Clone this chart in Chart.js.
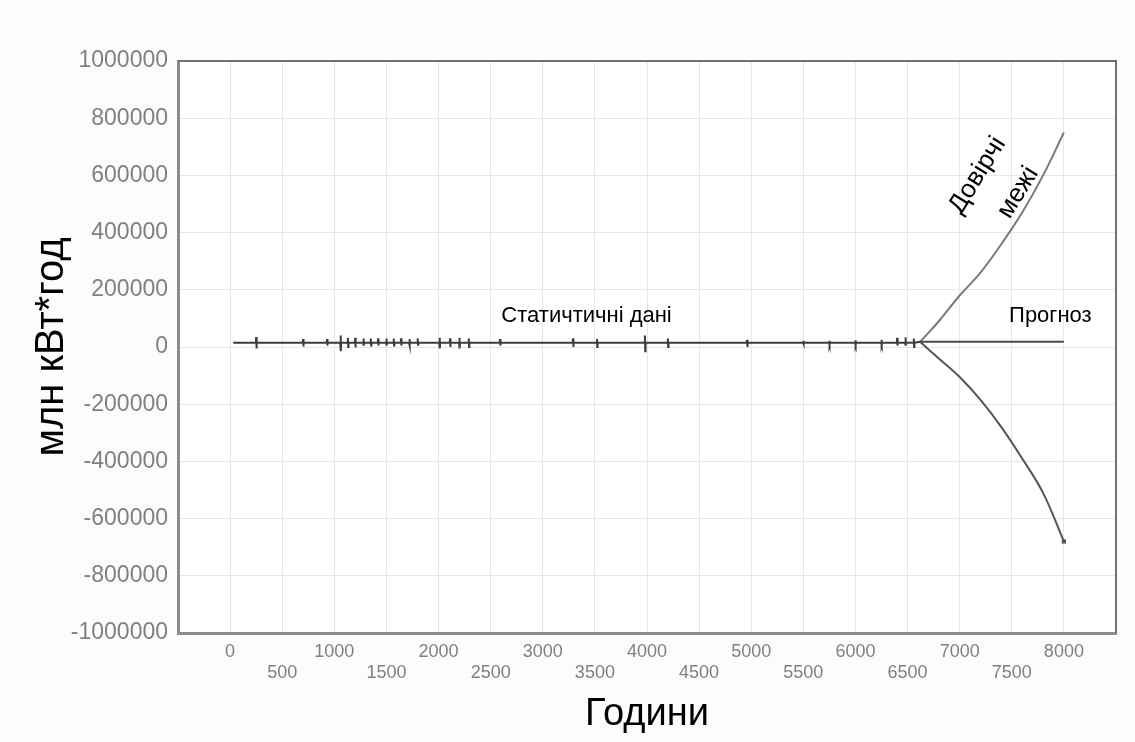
<!DOCTYPE html>
<html>
<head>
<meta charset="utf-8">
<script src="https://cdn.jsdelivr.net/npm/chart.js@4"></script>
<style>
  html, body { margin: 0; padding: 0; background: #fcfcfc; }
  #wrap { width: 1135px; height: 742px; }
</style>
</head>
<body>
<div id="wrap"><canvas id="loadChart"></canvas></div>
<script>
// статичні дані (години / млн кВт*год)
var statHours = [30,
  247, 250, 253, 256,
  697, 700, 703, 706,
  927, 930, 933, 936,
  1057, 1060, 1063, 1066,
  1127, 1130, 1133, 1136,
  1197, 1200, 1203, 1206,
  1277, 1280, 1283, 1286,
  1347, 1350, 1353, 1356,
  1417, 1420, 1423, 1426,
  1497, 1500, 1503, 1506,
  1567, 1570, 1573, 1576,
  1637, 1640, 1643, 1646,
  1717, 1720, 1723, 1726,
  1797, 1800, 1803, 1806,
  2007, 2010, 2013, 2016,
  2107, 2110, 2113, 2116,
  2197, 2200, 2203, 2206,
  2287, 2290, 2293, 2296,
  2587, 2590, 2593, 2596,
  3287, 3290, 3293, 3296,
  3517, 3520, 3523, 3526,
  3977, 3980, 3983, 3986,
  4197, 4200, 4203, 4206,
  4957, 4960, 4963, 4966,
  5497, 5500, 5503, 5506,
  5747, 5750, 5753, 5756,
  5997, 6000, 6003, 6006,
  6247, 6250, 6253, 6256,
  6397, 6400, 6403, 6406,
  6477, 6480, 6483, 6486,
  6557, 6560, 6563, 6566,
  6620];
var statLoad = [15000,
  15000, 35000, -5000, 15000,
  15000, 28000, 2000, 15000,
  15000, 28000, 5000, 15000,
  15000, 40000, -15000, 15000,
  15000, 32000, 0, 15000,
  15000, 32000, -2000, 15000,
  15000, 30000, 5000, 15000,
  15000, 30000, 5000, 15000,
  15000, 30000, 5000, 15000,
  15000, 30000, 5000, 15000,
  15000, 30000, 5000, 15000,
  15000, 30000, 5000, 15000,
  15000, 28000, 5000, 15000,
  15000, 30000, 8000, 15000,
  15000, 32000, -5000, 15000,
  15000, 30000, 0, 15000,
  15000, 32000, -5000, 15000,
  15000, 30000, 0, 15000,
  15000, 28000, 5000, 15000,
  15000, 30000, 0, 15000,
  15000, 28000, 0, 15000,
  15000, 40000, -15000, 15000,
  15000, 30000, 0, 15000,
  15000, 25000, 0, 15000,
  15000, 22000, 10000, 15000,
  15000, 22000, 8000, 15000,
  15000, 24000, 8000, 15000,
  15000, 25000, 8000, 15000,
  15000, 32000, 5000, 15000,
  15000, 34000, 5000, 15000,
  15000, 30000, 0, 15000,
  18000];

// прогноз і довірчі межі
var forecastHours = [6620, 6800, 7000, 7200, 7400, 7600, 7800, 8000];
var forecast = [18000, 18000, 18000, 18000, 18000, 18000, 18000, 18000];
var upperLimit = [18000, 90000, 180000, 260000, 360000, 470000, 600000, 750000];
var lowerLimit = [18000, -40000, -105000, -185000, -280000, -390000, -510000, -680000];

var yTicks = [-1000000, -800000, -600000, -400000, -200000, 0, 200000, 400000, 600000, 800000, 1000000];

function pairs(xs, ys) {
    return xs.map(function (x, i) { return {x: x, y: ys[i]}; });
}

var notes = [
    {text: "Статичтичні дані", x: 3420, y: 110000, rot: 0, size: 22},
    {text: "Прогноз", x: 7870, y: 110000, rot: 0, size: 22},
    {text: "Довірчі", x: 7170, y: 600000, rot: -58, size: 26},
    {text: "межі", x: 7560, y: 540000, rot: -58, size: 26}
];

var notesPlugin = {
    id: "notes",
    afterDatasetsDraw: function (chart) {
        var ctx = chart.ctx;
        ctx.save();
        ctx.fillStyle = "#000";
        ctx.textAlign = "center";
        ctx.textBaseline = "middle";
        notes.forEach(function (n) {
            var px = chart.scales.x.getPixelForValue(n.x);
            var py = chart.scales.y.getPixelForValue(n.y);
            ctx.save();
            ctx.font = n.size + "px 'Liberation Sans', Arial, sans-serif";
            ctx.translate(px, py);
            ctx.rotate(n.rot * Math.PI / 180);
            ctx.fillText(n.text, 0, 0);
            ctx.restore();
        });
        // рамка зверху і справа
        var a = chart.chartArea;
        ctx.strokeStyle = "#707070";
        ctx.lineWidth = 2;
        ctx.beginPath();
        ctx.moveTo(a.left, a.top);
        ctx.lineTo(a.right, a.top);
        ctx.lineTo(a.right, a.bottom);
        ctx.stroke();
        ctx.restore();
    }
};

var bgPlugin = {
    id: "bg",
    beforeDraw: function (chart) {
        var ctx = chart.ctx, a = chart.chartArea;
        ctx.save();
        ctx.fillStyle = "#ffffff";
        ctx.fillRect(a.left, a.top, a.right - a.left, a.bottom - a.top);
        ctx.restore();
    }
};

var loadChart = new Chart(document.getElementById("loadChart"), {
    "type": "scatter",
    "data": {
        "datasets": [{
            "label": "Статичтичні дані",
            "data": pairs(statHours, statLoad),
            "showLine": true,
            "borderColor": "#3c3c3c",
            "borderWidth": 2,
            "pointRadius": 0,
            "tension": 0
        }, {
            "label": "Прогноз",
            "data": pairs(forecastHours, forecast),
            "showLine": true,
            "borderColor": "#4a4a4a",
            "borderWidth": 2,
            "pointRadius": 0,
            "tension": 0
        }, {
            "label": "Верхня межа",
            "data": pairs(forecastHours, upperLimit),
            "showLine": true,
            "borderColor": "#7a7a7a",
            "borderWidth": 2,
            "pointRadius": 0,
            "tension": 0.4
        }, {
            "label": "Нижня межа",
            "data": pairs(forecastHours, lowerLimit),
            "showLine": true,
            "borderColor": "#555555",
            "borderWidth": 2,
            "pointRadius": [0, 0, 0, 0, 0, 0, 0, 3],
            "pointStyle": "rect",
            "pointBackgroundColor": "#555555",
            "pointBorderWidth": 0,
            "tension": 0.4
        }]
    },
    "options": {
        "responsive": true,
        "maintainAspectRatio": false,
        "animation": false,
        "layout": {"padding": {"left": 0, "top": 61, "right": 19, "bottom": 0}},
        "plugins": {
            "legend": {"display": false},
            "tooltip": {"enabled": false}
        },
        "scales": {
            "x": {
                "type": "linear",
                "min": -500,
                "max": 8500,
                "afterBuildTicks": function (scale) {
                    var t = [];
                    for (var v = -500; v <= 8500; v += 500) t.push({value: v});
                    scale.ticks = t;
                },
                "afterFit": function (scale) { scale.height = 109; },
                "grid": {"color": "#e6e6e6", "lineWidth": 1, "tickLength": 0},
                "border": {"color": "#8c8c8c", "width": 3},
                "ticks": {
                    "autoSkip": false,
                    "maxRotation": 0,
                    "padding": 8,
                    "color": "#808080",
                    "font": {"family": "'Liberation Sans', Arial, sans-serif", "size": 18},
                    "callback": function (v) {
                        if (v < 0 || v > 8000) return "";
                        return v % 1000 === 0 ? String(v) : ["", String(v)];
                    }
                },
                "title": {
                    "display": true,
                    "text": "Години",
                    "color": "#000",
                    "font": {"family": "'Liberation Sans', Arial, sans-serif", "size": 38},
                    "padding": {"top": 0, "bottom": 5}
                }
            },
            "y": {
                "type": "linear",
                "min": -1000000,
                "max": 1000000,
                "afterBuildTicks": function (scale) {
                    scale.ticks = yTicks.map(function (v) { return {value: v}; });
                },
                "afterFit": function (scale) { scale.width = 178; },
                "grid": {"color": "#e6e6e6", "lineWidth": 1, "tickLength": 0},
                "border": {"color": "#8c8c8c", "width": 3},
                "ticks": {
                    "padding": 10,
                    "color": "#808080",
                    "font": {"family": "'Liberation Sans', Arial, sans-serif", "size": 23},
                    "callback": function (v) { return String(v); }
                },
                "title": {
                    "display": true,
                    "text": "млн кВт*год",
                    "color": "#000",
                    "font": {"family": "'Liberation Sans', Arial, sans-serif", "size": 40},
                    "padding": {"top": 28, "bottom": 0}
                }
            }
        }
    },
    "plugins": [bgPlugin, notesPlugin]
});
</script>
</body>
</html>
